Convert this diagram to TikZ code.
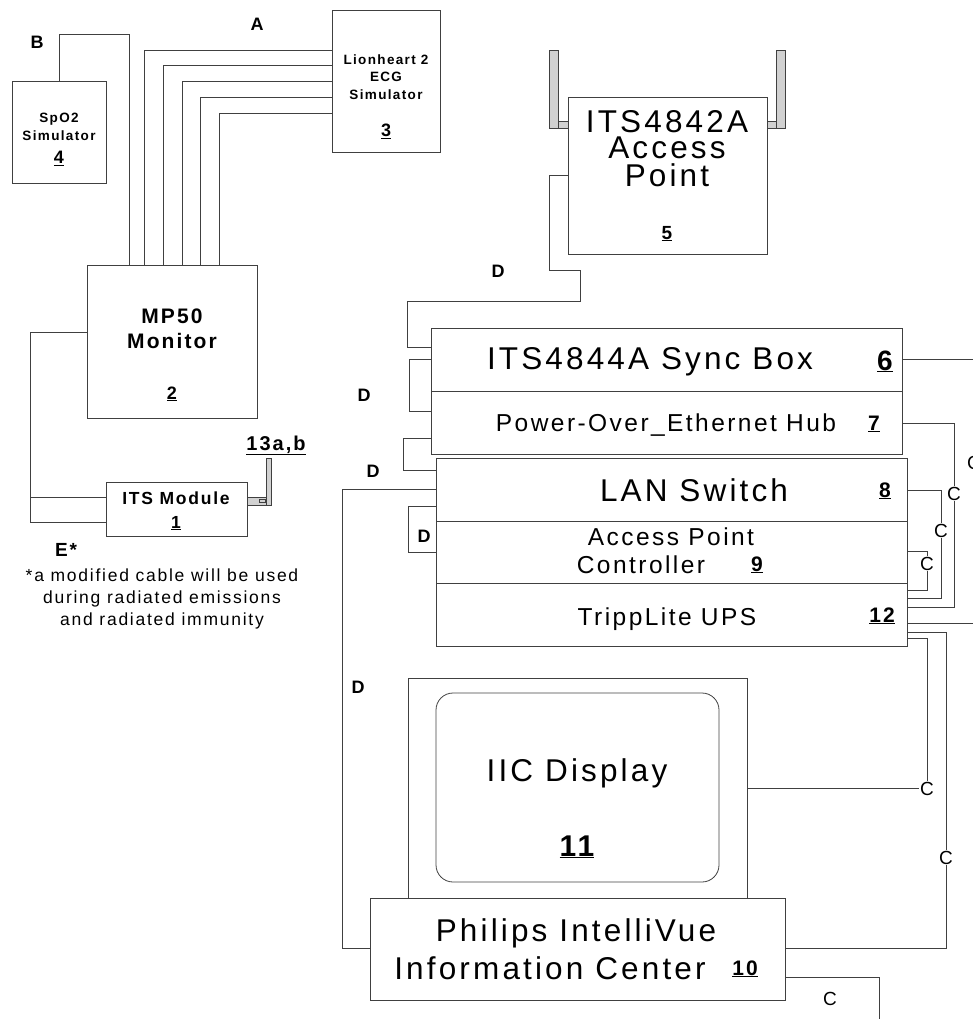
\documentclass[tikz,border=0pt]{standalone}
\usepackage{fontspec}
\setmainfont{Liberation Sans}[LetterSpace=10]
\usepackage{tikz}
\usetikzlibrary{positioning}
\usetikzlibrary{calc}
\newcommand{\partno}[1]{\textbf{\underline{#1}}}

\begin{document}
\begin{tikzpicture}[x=1pt,y=-1pt,>=stealth,
  box/.style={draw=black!75,line width=0.8pt,inner sep=0pt,outer sep=0pt,anchor=north west},
  cable/.style={draw=black!75,line width=0.8pt},
  ant/.style={draw=black!75,fill=black!18,line width=0.6pt},
  txt/.style={inner sep=0pt,anchor=base},
  tag/.style={txt,font=\fontsize{18}{20}\selectfont\bfseries},
  ctag/.style={txt,font=\fontsize{19}{21}\selectfont,fill=white,inner sep=1pt},
  big/.style={txt,font=\fontsize{31.5}{33}\selectfont},
  mid/.style={txt,font=\fontsize{24.5}{26}\selectfont},
  small/.style={inner sep=0pt,align=center,font=\fontsize{13.5}{17.5}\selectfont\bfseries}]
  \useasboundingbox (0,0) rectangle (972,1019);

  % simulators, monitor and module (left)
  \node[box,minimum width=94pt,minimum height=102pt] (spo2) at (12,81) {};
  \node[box,minimum width=108pt,minimum height=142pt] (ecg) at (332,10) {};
  \node[box,minimum width=170pt,minimum height=153pt] (mp50) at (87,265) {};
  \node[box,minimum width=141pt,minimum height=54pt] (itsmod) at (106,482) {};
  \node[small] (spo2name) at (59,127) {SpO2\\Simulator};
  \node[tag] (spo2no) at (59,164) {\partno{4}};
  \node[small] (ecgname) at (386,77) {Lionheart 2\\ECG\\Simulator};
  \node[tag] (ecgno) at (386,137) {\partno{3}};
  \node[txt,font=\fontsize{21}{25}\selectfont\bfseries] (mp50name1) at (172,323.5) {MP50};
  \node[txt,font=\fontsize{21}{25}\selectfont\bfseries] (mp50name2) at (172,348.5) {Monitor};
  \node[tag] (mp50no) at (172,399) {\partno{2}};
  \node[txt,font=\fontsize{17.5}{20}\selectfont\bfseries] (itsname) at (176,504) {ITS Module};
  \node[txt,font=\fontsize{17.5}{20}\selectfont\bfseries] (itsno) at (176,528) {\partno{1}};
  % module antenna
  \filldraw[ant] (247,497) rectangle (266,505);
  \filldraw[ant] (266,458) rectangle (271,505);
  \draw[black!75,line width=0.5pt] (259,499) rectangle (265,502);
  \node[txt,font=\fontsize{20}{22}\selectfont\bfseries] (antno) at (276,450) {\underline{13a,b}};

  % cables A, B, E
  \foreach \dy/\dx in {40/57,55/76,71/95,87/113,103/132}
    \draw[cable] ([yshift=-\dy pt]ecg.north west) -| ([xshift=\dx pt]mp50.north west);
  \coordinate (bturn) at (129,34);
  \draw[cable] (spo2.north) |- (bturn) -- (bturn |- mp50.north);
  \draw[cable] ([yshift=-67pt]mp50.north west) -- ++(-57,0) |- ([yshift=-40pt]itsmod.north west);
  \draw[cable] ([yshift=-15pt]itsmod.north west) -- ++(-76,0);
  \node[tag] (labA) at (257,31) {A};
  \node[tag] (labB) at (37,49) {B};
  \node[tag,font=\fontsize{19}{21}\selectfont\bfseries] (labE) at (66,556) {E*};
  \node[inner sep=0pt,align=center,font=\fontsize{17.5}{22}\selectfont] (note) at (162,599)
    {*a modified cable will be used\\during radiated emissions\\and radiated immunity};

  % access point
  \node[box,minimum width=199pt,minimum height=157pt] (ap) at (568,97) {};
  \filldraw[ant] (549,50) rectangle (558,128);
  \filldraw[ant] (558,121) rectangle (568,128);
  \filldraw[ant] (776,50) rectangle (785,128);
  \filldraw[ant] (767,121) rectangle (776,128);
  \node[big] (apname1) at (667,133) {ITS4842A};
  \node[big] (apname2) at (667,159) {Access};
  \node[big] (apname3) at (667,186) {Point};
  \node[txt,font=\fontsize{19}{21}\selectfont\bfseries] (apno) at (667,239) {\partno{5}};

  % rack: sync box, hub, switch, controller, ups
  \node[box,minimum width=471pt,minimum height=63pt] (sync) at (431,328) {};
  \node[box,minimum width=471pt,minimum height=63pt] (poe) at (431,391) {};
  \node[box,minimum width=471pt,minimum height=63pt] (lan) at (436,458) {};
  \node[box,minimum width=471pt,minimum height=62pt] (apc) at (436,521) {};
  \node[box,minimum width=471pt,minimum height=63pt] (ups) at (436,583) {};
  \node[big] (syncname) at (650,369) {ITS4844A Sync Box};
  \node[txt,font=\fontsize{28}{30}\selectfont\bfseries] (syncno) at (885,370) {\underline{6}};
  \node[mid] (poename) at (666,431) {Power-Over\_Ethernet Hub};
  \node[txt,font=\fontsize{21}{23}\selectfont\bfseries] (poeno) at (874,430) {\underline{7}};
  \node[big] (lanname) at (694,501) {LAN Switch};
  \node[txt,font=\fontsize{21}{23}\selectfont\bfseries] (lanno) at (885,497) {\underline{8}};
  \node[mid] (apcname1) at (671,545) {Access Point};
  \node[mid] (apcname2) at (641,573) {Controller};
  \node[txt,font=\fontsize{21}{23}\selectfont\bfseries] (apcno) at (757,571) {\underline{9}};
  \node[mid] (upsname) at (667,625) {TrippLite UPS};
  \node[txt,font=\fontsize{21}{23}\selectfont\bfseries] (upsno) at (882,622) {\underline{12}};

  % information center
  \node[box,minimum width=339pt,minimum height=220pt] (iicbox) at (408,678) {};
  \node[box,minimum width=283pt,minimum height=189pt,rounded corners=17pt] (screen) at (436,693) {};
  \node[box,fill=white,minimum width=415pt,minimum height=102pt] (iic) at (370,898) {};
  \node[big] (screenname) at (577,781) {IIC Display};
  \node[txt,font=\fontsize{30}{32}\selectfont\bfseries] (screenno) at (577,856) {\underline{11}};
  \node[big] (iicname1) at (576,941) {Philips IntelliVue};
  \node[big] (iicname2) at (550,979) {Information Center};
  \node[txt,font=\fontsize{21}{23}\selectfont\bfseries] (iicno) at (745,975) {\underline{10}};

  % network cables D
  \draw[cable] ([yshift=-78pt]ap.north west) -- ++(-19,0) -- ++(0,95) -- ++(31,0)
    -- ++(0,31) -- ++(-173,0) -- ++(0,46) -- ([yshift=-19pt]sync.north west);
  \draw[cable] ([yshift=-31pt]sync.north west) -- ++(-22,0) |- ([yshift=-20pt]poe.north west);
  \draw[cable] ([yshift=-47pt]poe.north west) -- ++(-28,0) |- ([yshift=-12pt]lan.north west);
  \draw[cable] ([yshift=-48pt]lan.north west) -- ++(-28,0) |- ([yshift=-31pt]apc.north west);
  \draw[cable] ([yshift=-31pt]lan.north west) -- ++(-94,0) |- ([yshift=-50pt]iic.north west);
  \node[tag] (labD1) at (498,277) {D};
  \node[tag] (labD2) at (364,401) {D};
  \node[tag] (labD3) at (373,477) {D};
  \node[tag] (labD4) at (424,542) {D};
  \node[tag] (labD5) at (358,693) {D};

  % power cables C
  \draw[cable] ([yshift=-31pt]sync.north east) -- ++(72,0) |- ([yshift=-40pt]ups.north east);
  \draw[cable] ([yshift=-32pt]poe.north east) -- ++(52,0) |- ([yshift=-24pt]ups.north east);
  \draw[cable] ([yshift=-32pt]lan.north east) -- ++(34,0) |- ([yshift=-15pt]ups.north east);
  \draw[cable] ([yshift=-30pt]apc.north east) -- ++(20,0) |- ([yshift=-7pt]ups.north east);
  \draw[cable] ([yshift=-49pt]ups.north east) -- ++(39,0) |- ([yshift=-50pt]iic.north east);
  \draw[cable] ([yshift=-55pt]ups.north east) -- ++(20,0) |- ([yshift=-110pt]iicbox.north east);
  \coordinate (iicend) at (879,1030);
  \draw[cable] ([yshift=-79pt]iic.north east) -| (iicend);
  \node[ctag] (labC1) at (974,469) {C};
  \node[ctag] (labC2) at (954,500) {C};
  \node[ctag] (labC3) at (941,537) {C};
  \node[ctag] (labC4) at (927,570) {C};
  \node[ctag] (labC5) at (927,795) {C};
  \node[ctag] (labC6) at (946,864) {C};
  \node[ctag,fill=none] (labC7) at (830,1005) {C};
\end{tikzpicture}
\end{document}
